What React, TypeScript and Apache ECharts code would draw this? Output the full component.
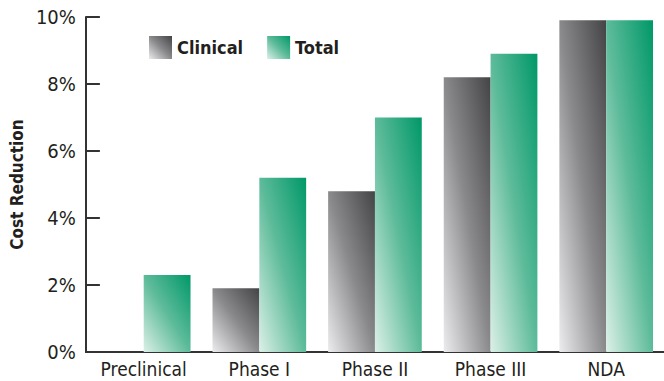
import React, { useEffect, useRef } from "react";
import * as echarts from "echarts";

const categories = ["Preclinical", "Phase I", "Phase II", "Phase III", "NDA"];
const clinicalValues = [0, 1.9, 4.8, 8.2, 9.9];
const totalValues = [2.3, 5.2, 7.0, 8.9, 9.9];
const yTicks = { min: 0, max: 10, interval: 2 };

const FONT = "'Liberation Sans Narrow', 'DejaVu Sans Condensed', 'Arial Narrow', sans-serif";

const grad = (dark: string, mid: string, light: string) =>
  new echarts.graphic.LinearGradient(1, 0, 0, 1, [
    { offset: 0, color: dark },
    { offset: 0.5, color: mid },
    { offset: 1, color: light },
  ]);

export default function App() {
  const ref = useRef<HTMLDivElement>(null);
  useEffect(() => {
    if (!ref.current) return;
    const chart = echarts.init(ref.current, null, { renderer: "svg" });
    chart.setOption({
      animation: false,
      backgroundColor: "#ffffff",
      grid: { left: 84, right: 0, top: 17, bottom: 29 },
      legend: {
        left: 144,
        top: 31,
        itemWidth: 23,
        itemHeight: 23,
        itemGap: 24,
        icon: "rect",
        textStyle: { fontFamily: FONT, fontWeight: "bold", fontSize: 18, color: "#231f20" },
        data: ["Clinical", "Total"],
      },
      xAxis: {
        type: "category",
        data: categories,
        axisLine: { lineStyle: { color: "#333", width: 2 } },
        axisTick: { inside: true, length: 5, lineStyle: { color: "#333", width: 2 } },
        axisLabel: {
          interval: 0,
          hideOverlap: false,
          fontFamily: FONT,
          fontSize: 19,
          lineHeight: 20,
          color: "#231f20",
          margin: 7,
        },
      },
      yAxis: {
        type: "value",
        min: yTicks.min,
        max: yTicks.max,
        interval: yTicks.interval,
        name: "Cost Reduction",
        nameLocation: "middle",
        nameGap: 60,
        nameTextStyle: { fontFamily: FONT, fontWeight: "bold", fontSize: 17, color: "#231f20" },
        axisLine: { show: true, lineStyle: { color: "#333", width: 2 } },
        axisTick: { show: true, inside: true, length: 14, lineStyle: { color: "#333", width: 2 } },
        splitLine: { show: false },
        axisLabel: { fontFamily: FONT, fontSize: 20, color: "#231f20", margin: 10, formatter: "{value}%" },
      },
      series: [
        {
          name: "Clinical",
          type: "bar",
          data: clinicalValues,
          barGap: "0%",
          barCategoryGap: "19%",
          itemStyle: { color: grad("#444346", "#8a8a8d", "#ececee") },
        },
        {
          name: "Total",
          type: "bar",
          data: totalValues,
          itemStyle: { color: grad("#009868", "#5dbb9a", "#dcf0e8") },
        },
      ],
    });
    return () => chart.dispose();
  }, []);
  return <div ref={ref} style={{ position: "fixed", left: 0, top: 0, width: 664, height: 381 }} />;
}
